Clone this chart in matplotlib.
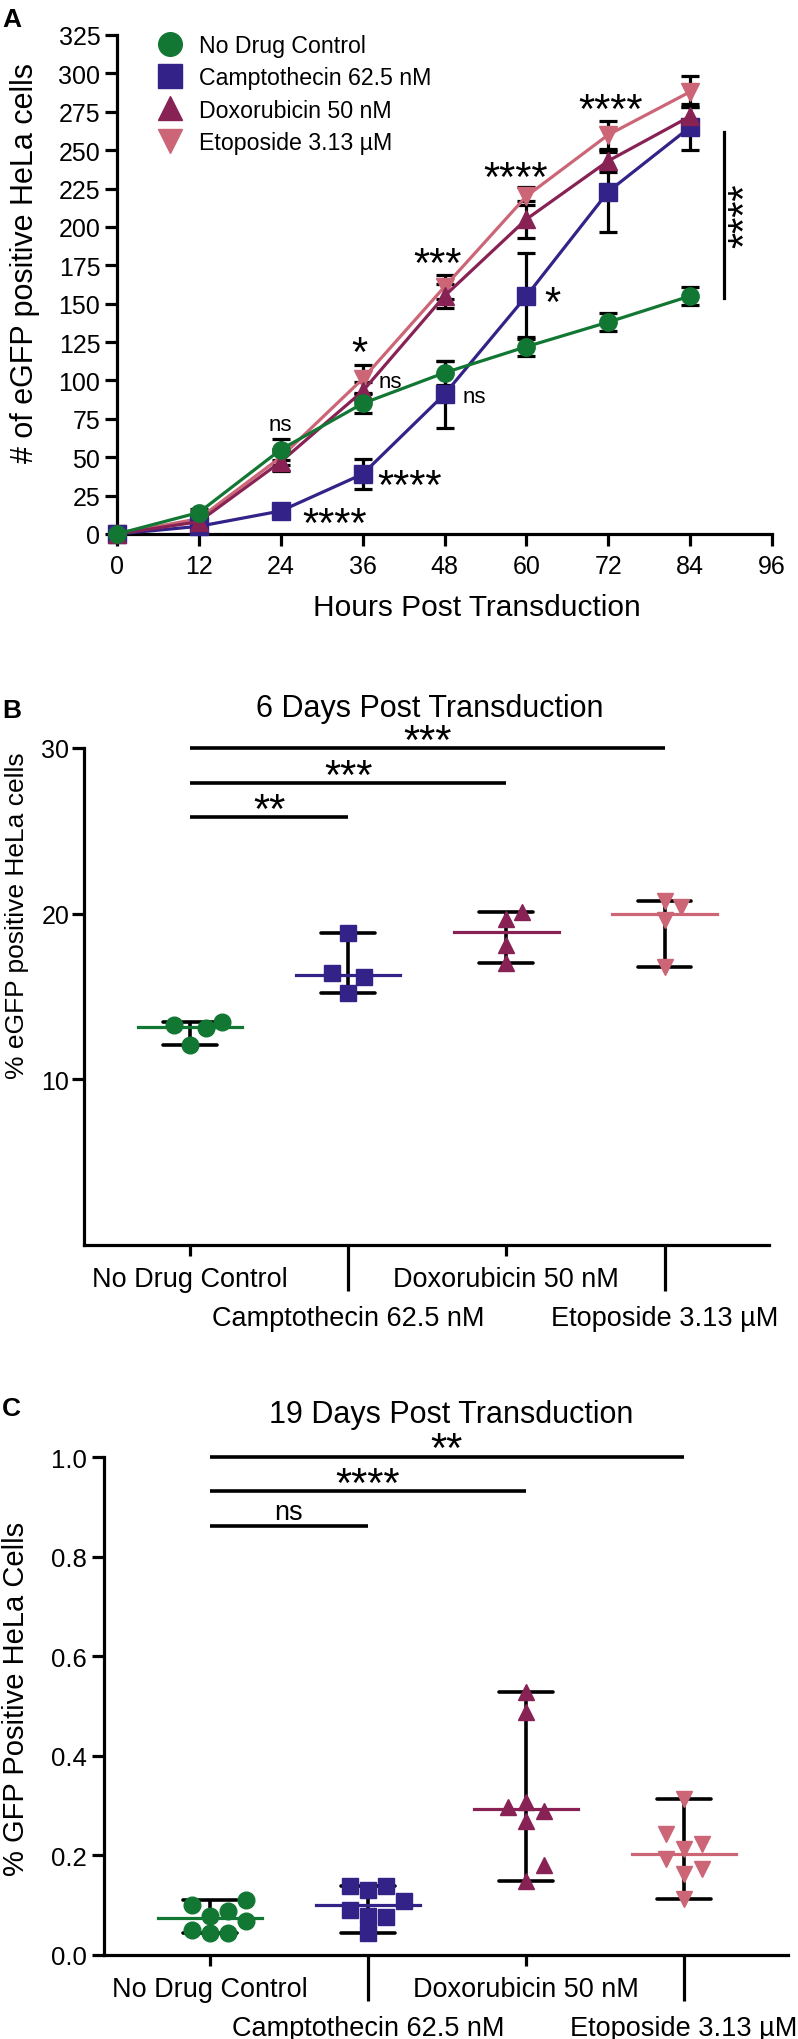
import matplotlib
matplotlib.use('Agg')
import matplotlib.pyplot as plt
import numpy as np
from matplotlib.lines import Line2D

plt.rcParams['font.family'] = ['Liberation Sans', 'DejaVu Sans']

W, H = 798, 2040

# ---- data ----
names = ['No Drug Control', 'Camptothecin 62.5 nM', 'Doxorubicin 50 nM', 'Etoposide 3.13 µM']
colors = ['#117733', '#332288', '#882255', '#CC6677']
markers = ['o', 's', '^', 'v']

# panel A: mean +/- sd counts
hours = [0, 12, 24, 36, 48, 60, 72, 84]
ctrl_mean = [0, 14, 55, 85, 105, 122, 138, 155]
ctrl_sd = [1, 2, 7, 6, 8, 6, 6, 6]
campto_mean = [0, 5, 15, 39, 91, 155, 223, 265]
campto_sd = [1, 2, 2, 10, 22, 28, 26, 15]
dox_mean = [0, 8, 47, 93, 155, 205, 243, 272]
dox_sd = [1, 2, 6, 6, 8, 12, 7, 6]
etop_mean = [0, 10, 50, 101, 161, 220, 260, 288]
etop_sd = [1, 2, 5, 9, 8, 6, 9, 10]

# panel B: % eGFP positive, 6 days
ctrl6 = [13.48, 13.07, 13.27, 12.07]
campto6 = [18.86, 16.4, 16.2, 15.2]
dox6 = [19.7, 20.1, 18.1, 17.0]
etop6 = [20.4, 20.75, 19.6, 16.8]

# panel C: % GFP positive, 19 days
ctrl19 = [0.079, 0.044, 0.110, 0.069, 0.089, 0.044, 0.100, 0.050]
campto19 = [0.139, 0.130, 0.139, 0.109, 0.079, 0.090, 0.077, 0.044]
dox19 = [0.528, 0.488, 0.297, 0.307, 0.289, 0.269, 0.180, 0.148]
etop19 = [0.313, 0.242, 0.222, 0.213, 0.193, 0.163, 0.173, 0.112]

# significance brackets: (group, height, label)
sig6 = [(1, 25.84, '**'), (2, 27.9, '***'), (3, 30.0, '***')]
sig19 = [(1, 0.862, 'ns'), (2, 0.931, '****'), (3, 1.0, '**')]


def fx(px):
    return px / W


def fy(py):
    return 1 - py / H


def box(l, t, r, b):
    return [fx(l), fy(b), (r - l) / W, (b - t) / H]


STAR = 30
LW = 2.3


def stars(ax, x, y, s, ha='center', dy=0, rot=False):
    # places asterisks so that the glyph centre sits on (x, y) + dy points
    off = 0.40 * STAR
    if rot:
        ax.annotate(s, (x, y), xytext=(off, 0), textcoords='offset points',
                    rotation=90, rotation_mode='anchor', ha='center', va='baseline',
                    fontsize=STAR, annotation_clip=False)
    else:
        ax.annotate(s, (x, y), xytext=(0, dy - off), textcoords='offset points',
                    ha=ha, va='baseline', fontsize=STAR, annotation_clip=False)


def swarm(ax, x0, vals, step=16, mind=17):
    pts = ax.transData.transform(np.column_stack([np.full(len(vals), x0), vals]))
    cx = pts[0, 0]
    ys = pts[:, 1]
    cand = [0]
    for k in range(1, 8):
        cand += [k, -k]
    placed = []
    xs = np.zeros(len(vals))
    for j in np.argsort(ys, kind='stable'):
        for k in cand:
            x = cx + k * step
            if all(np.hypot(x - px, ys[j] - py) >= mind for px, py in placed):
                break
        placed.append((x, ys[j]))
        xs[j] = x
    return ax.transData.inverted().transform(np.column_stack([xs, ys]))[:, 0]


def dotplot(ax, groups, ms, step):
    for i, vals in enumerate(groups):
        med = np.median(vals)
        lo, hi = min(vals), max(vals)
        ax.plot([i, i], [lo, hi], color='black', lw=2.6, solid_capstyle='butt', zorder=2)
        for v in (lo, hi):
            ax.plot([i - 0.17, i + 0.17], [v, v], color='black', lw=2.6,
                    solid_capstyle='round', zorder=2)
        ax.plot([i - 0.33, i + 0.33], [med, med], color=colors[i], lw=LW, zorder=3)
        xs = swarm(ax, i, vals, step=step)
        ax.plot(xs, vals, ls='none', marker=markers[i], ms=ms, color=colors[i],
                mec=colors[i], zorder=4, clip_on=False)


def cat_axis(ax):
    ax.set_xlim(-0.67, 3.66)
    ax.set_xticks([0, 2])
    ax.set_xticks([1, 3], minor=True)
    ax.tick_params(axis='x', which='major', length=8, width=LW, labelbottom=False)
    ax.tick_params(axis='x', which='minor', length=33, width=LW, labelbottom=False)
    for i, name in enumerate(names):
        dy = -41 if i % 2 == 0 else -80
        ax.annotate(name, (i, 0), xycoords=('data', 'axes fraction'), xytext=(0, dy * 0.72),
                    textcoords='offset points', ha='center', va='baseline', fontsize=19.5,
                    annotation_clip=False)


def brackets(ax, sigs, ns_up, st_up):
    for j, y, lab in sigs:
        ax.plot([0, j], [y, y], color='black', lw=2.6, solid_capstyle='butt', clip_on=False)
        if lab == 'ns':
            ax.annotate(lab, (j / 2, y), xytext=(0, ns_up), textcoords='offset points',
                        ha='center', va='baseline', fontsize=19.5, annotation_clip=False)
        else:
            stars(ax, j / 2, y, lab, dy=st_up)


def style(ax):
    for s in ['top', 'right']:
        ax.spines[s].set_visible(False)
    for s in ['left', 'bottom']:
        ax.spines[s].set_linewidth(LW)


fig = plt.figure(figsize=(W / 100, H / 100), dpi=100)

# ---------------- A ----------------
axA = fig.add_axes(box(117, 36, 772, 535))
style(axA)
axA.set_xlim(0, 96)
axA.set_ylim(0, 325)
axA.set_xticks(range(0, 97, 12))
axA.set_yticks(range(0, 326, 25))
axA.tick_params(axis='both', length=8.5, width=LW, labelsize=18)
axA.tick_params(axis='y', pad=3.5)
axA.tick_params(axis='x', pad=6)

means = [ctrl_mean, campto_mean, dox_mean, etop_mean]
sds = [ctrl_sd, campto_sd, dox_sd, etop_sd]
for i in [3, 1, 2, 0]:
    cont = axA.errorbar(hours, means[i], yerr=sds[i], color=colors[i], marker=markers[i],
                        ms=12.5, mec=colors[i], lw=LW, ecolor='black', elinewidth=LW,
                        capsize=6.5, capthick=LW, zorder=3)
    for art in cont.get_children():
        art.set_clip_on(False)

axA.annotate('ns', (24, 68), ha='center', va='baseline', fontsize=16)
stars(axA, 35.6, 121, '*')
axA.annotate('ns', (38.3, 96), ha='left', va='baseline', fontsize=16)
axA.annotate('ns', (50.7, 86), ha='left', va='baseline', fontsize=16)
stars(axA, 38.2, 34.5, '****', ha='left')
stars(axA, 27.1, 9.8, '****', ha='left')
stars(axA, 47.0, 179, '***')
stars(axA, 58.4, 235, '****')
stars(axA, 62.6, 153.6, '*', ha='left')
stars(axA, 72.4, 279, '****')
axA.plot([89.0, 89.0], [154, 262], color='black', lw=LW, clip_on=False)
stars(axA, 91.4, 208, '****', rot=True)

handles = [Line2D([], [], ls='none', marker=markers[i], ms=17, color=colors[i], mec=colors[i])
           for i in range(4)]
fig.legend(handles, names, loc='upper left', bbox_to_anchor=(fx(158), fy(35)),
           frameon=False, fontsize=16.7, handlelength=1.0, handletextpad=0.75,
           labelspacing=0.4, borderpad=0, borderaxespad=0)

fig.text(fx(477), fy(616), 'Hours Post Transduction', ha='center', va='baseline', fontsize=21.5)
fig.text(fx(25), fy(263), '# of eGFP positive HeLa cells', rotation=90, ha='center',
         va='center', fontsize=22)
fig.text(fx(2), fy(27), 'A', weight='bold', fontsize=19, va='baseline')

# ---------------- B ----------------
axB = fig.add_axes(box(84, 749, 769, 1246))
style(axB)
axB.set_ylim(0, 30)
axB.set_yticks([10, 20, 30])
axB.tick_params(axis='y', length=9, width=LW, labelsize=18, pad=1.5)
cat_axis(axB)
dotplot(axB, [ctrl6, campto6, dox6, etop6], ms=12, step=16)
brackets(axB, sig6, ns_up=4, st_up=8.6)
fig.text(fx(430), fy(717), '6 Days Post Transduction', ha='center', va='baseline', fontsize=22)
fig.text(fx(17), fy(916), '% eGFP positive HeLa cells', rotation=90, ha='center',
         va='center', fontsize=19)
fig.text(fx(2), fy(718), 'B', weight='bold', fontsize=19, va='baseline')

# ---------------- C ----------------
axC = fig.add_axes(box(104, 1458, 788, 1956))
style(axC)
axC.set_ylim(0, 1.0)
axC.set_yticks([0, 0.2, 0.4, 0.6, 0.8, 1.0])
axC.set_yticklabels(['0.0', '0.2', '0.4', '0.6', '0.8', '1.0'])
axC.tick_params(axis='y', length=8.6, width=LW, labelsize=18.5, pad=3.5)
cat_axis(axC)
dotplot(axC, [ctrl19, campto19, dox19, etop19], ms=12, step=18)
brackets(axC, sig19, ns_up=4.5, st_up=9)
fig.text(fx(451), fy(1423), '19 Days Post Transduction', ha='center', va='baseline', fontsize=22)
fig.text(fx(16), fy(1699), '% GFP Positive HeLa Cells', rotation=90, ha='center',
         va='center', fontsize=21)
fig.text(fx(2), fy(1416), 'C', weight='bold', fontsize=19, va='baseline')

fig.savefig('out.png', dpi=100)
